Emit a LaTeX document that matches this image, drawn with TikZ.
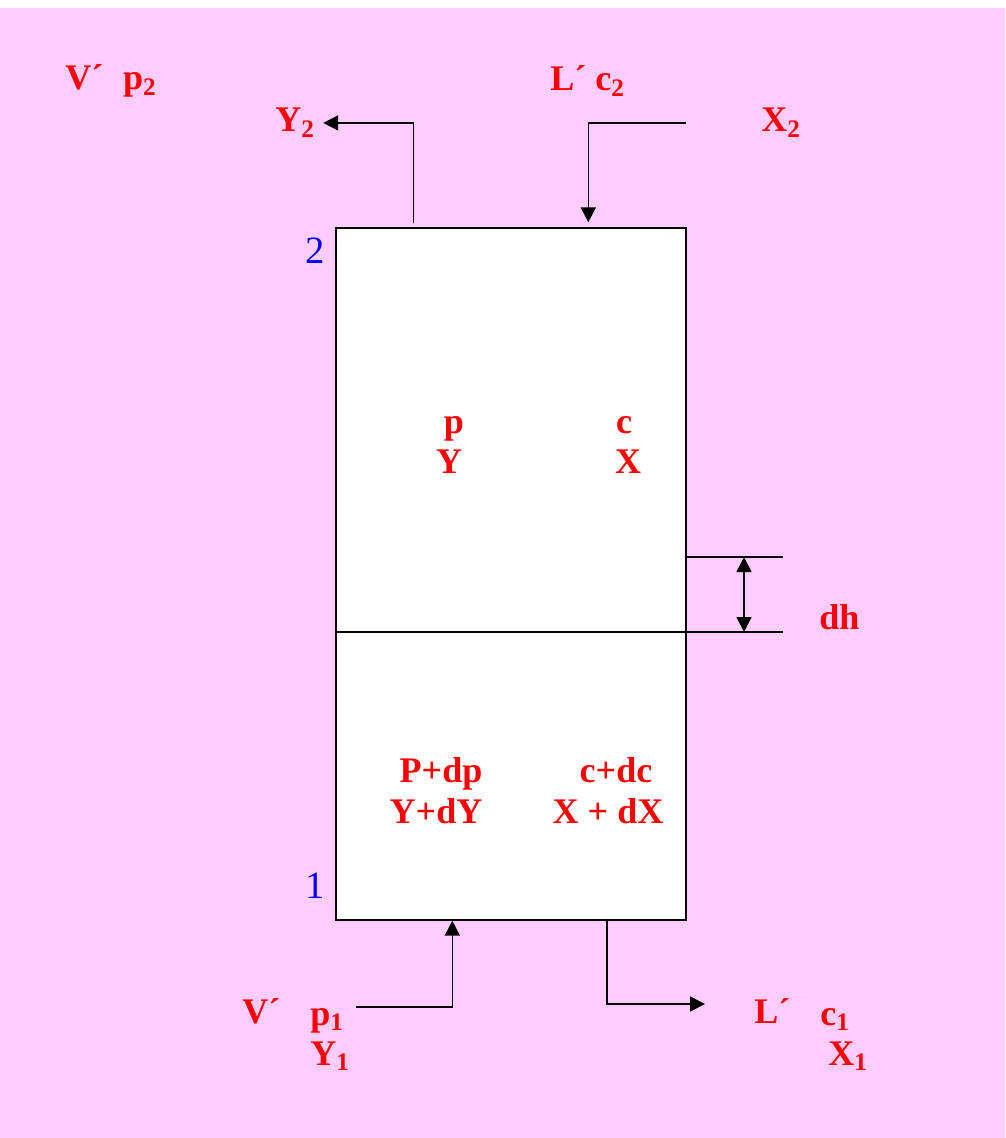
\documentclass[tikz,border=0pt]{standalone}
\usepackage{fontspec}
\setmainfont{Liberation Serif}
\usetikzlibrary{
    arrows.meta
}
\definecolor{backpink}{RGB}{255,204,255}
\tikzset{stage/.style={
    draw,
    fill=white,
    minimum width=7cm,
    line width=0.8pt
}}
\tikzset{quantity/.style={
    text=red,
    font=\bfseries\fontsize{20.5}{23}\selectfont,
    inner sep=0pt
}}
\tikzset{stagenum/.style={
    text=blue,
    font=\fontsize{22}{26}\selectfont,
    inner sep=0pt
}}
\tikzset{arrow/.style={-{Triangle[length=0.3cm,width=0.3cm]},line width=0.9pt}}
\tikzset{dimarrow/.style={{Triangle[length=0.3cm,width=0.3cm]}-{Triangle[length=0.3cm,width=0.3cm]},line width=0.9pt}}

\begin{document}
\begin{tikzpicture}[
            x=0.02cm,
            y=-0.02cm,
    ]
        \fill[white] (0,0) rectangle (1005,1138);
        \fill[backpink] (0,8) rectangle (1005,1138);

        \node[stage, minimum height=8.08cm]
            (upper-stage) at (511,430)
            {};

        \node[stage, minimum height=5.76cm]
            (lower-stage) at (511,776)
            {};

        \node[stagenum, anchor=base west] (stage-two) at (305,264) {2};
        \node[stagenum, anchor=base west] (stage-one) at (305,898) {1};

        % top streams
        \node[quantity, anchor=base west] (vapour-top) at (65,90)
            {V´\hspace{0.55em}p\textsubscript{2}};
        \node[quantity, anchor=base west] (Y2-label) at (275,132)
            {Y\textsubscript{2}};
        \node[quantity, anchor=base west] (liquid-top) at (550,91)
            {L´ c\textsubscript{2}};
        \node[quantity, anchor=base west] (X2-label) at (761,132)
            {X\textsubscript{2}};

        % inside the column
        \node[quantity, anchor=base] (p-upper) at (454,433) {p};
        \node[quantity, anchor=base] (Y-upper) at (449,473) {Y};
        \node[quantity, anchor=base] (c-upper) at (624,433) {c};
        \node[quantity, anchor=base] (X-upper) at (628,473) {X};
        \node[quantity, anchor=base] (p-lower) at (441,782) {P+dp};
        \node[quantity, anchor=base] (Y-lower) at (436,823) {Y+dY};
        \node[quantity, anchor=base] (c-lower) at (616,782) {c+dc};
        \node[quantity, anchor=base] (X-lower) at (608,823) {X + dX};

        % bottom streams
        \node[quantity, anchor=base west] (vapour-bottom) at (242,1023) {V´};
        \node[quantity, anchor=base west] (p1-label) at (310,1025) {p\textsubscript{1}};
        \node[quantity, anchor=base west] (Y1-label) at (310,1065) {Y\textsubscript{1}};
        \node[quantity, anchor=base west] (liquid-bottom) at (754,1023) {L´};
        \node[quantity, anchor=base west] (c1-label) at (820,1025) {c\textsubscript{1}};
        \node[quantity, anchor=base west] (X1-label) at (828,1065) {X\textsubscript{1}};

        \node[quantity, anchor=base west] (dh-label) at (819,629) {dh};

        \coordinate (liquid-in) at (686,123);
        \coordinate (vapour-in) at (356,1007);
        \coordinate (liquid-out) at (705,1004);
        \coordinate (dh-top) at (783,557);
        \coordinate (dh-bottom) at (783,632);

        \draw[arrow, shorten <=0.08cm, shorten >=0.16cm]
            ([xshift=1.56cm]upper-stage.north west) |- (Y2-label.east);
        \draw[arrow, shorten >=0.1cm]
            (liquid-in) -| ([xshift=5.06cm]upper-stage.north west);
        \draw[arrow]
            (vapour-in) -| ([xshift=2.34cm]lower-stage.south west);
        \draw[arrow]
            ([xshift=5.44cm]lower-stage.south west) |- (liquid-out);

        \draw[line width=0.8pt] (upper-stage.east |- dh-top) -- (dh-top);
        \draw[line width=0.8pt] (lower-stage.east |- dh-bottom) -- (dh-bottom);
        \draw[dimarrow] ([xshift=-0.78cm]dh-top) -- ([xshift=-0.78cm]dh-bottom);

    \end{tikzpicture}
\end{document}
